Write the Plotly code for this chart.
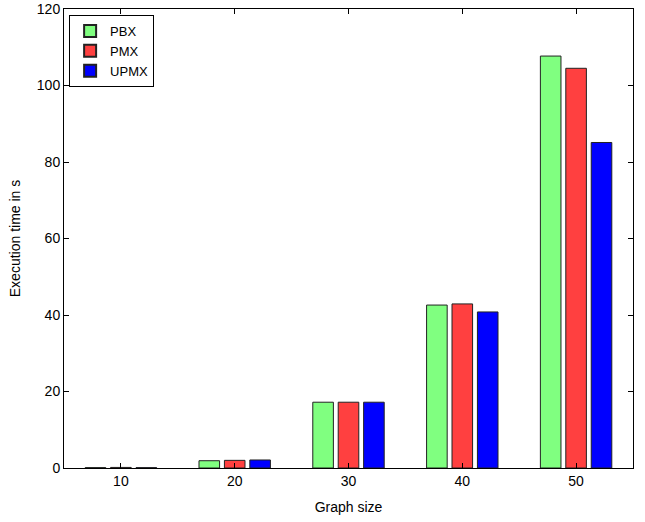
import plotly.graph_objects as go

categories = [10, 20, 30, 40, 50]
pbx = [0.1, 1.9, 17.2, 42.6, 107.7]
pmx = [0.15, 2.0, 17.2, 42.9, 104.5]
upmx = [0.1, 2.1, 17.2, 40.8, 85.1]
y_ticks = [0, 20, 40, 60, 80, 100, 120]

fig = go.Figure()
for name, vals, col in [("PBX", pbx, "#80ff80"), ("PMX", pmx, "#ff4040"), ("UPMX", upmx, "#0000ff")]:
    fig.add_trace(go.Bar(x=categories, y=vals, name=name,
                         marker=dict(color=col, line=dict(color="#222222", width=1))))

font = dict(family="Liberation Sans, Arial, sans-serif", size=14, color="black")
fig.update_layout(
    width=645, height=522,
    margin=dict(l=64, r=12, t=9, b=54, autoexpand=False),
    paper_bgcolor="white", plot_bgcolor="white",
    barmode="group", bargap=0.33, bargroupgap=0.19,
    font=font,
    showlegend=True,
    legend=dict(x=0.009, y=0.987, xanchor="left", yanchor="top",
                bordercolor="black", borderwidth=1, bgcolor="white",
                font=dict(family="Liberation Sans, Arial, sans-serif", size=13),
                tracegroupgap=0, itemsizing="constant", itemwidth=30),
    xaxis=dict(range=[5, 55], tickvals=categories, ticktext=[str(c) for c in categories],
               ticks="inside", ticklen=5, tickcolor="black", showline=True, linecolor="black",
               linewidth=1, mirror="ticks", showgrid=False, zeroline=False, automargin=False,
               title=dict(text="Graph size", font=font, standoff=14)),
    yaxis=dict(range=[0, 120], tickvals=y_ticks, ticks="inside", ticklen=5, tickcolor="black",
               showline=True, linecolor="black", linewidth=1, mirror="ticks", automargin=False,
               showgrid=False, zeroline=False,
               title=dict(text="Execution time in s", font=font, standoff=12)),
)
fig.write_html("out.html", config={"displayModeBar": False},
               post_script="document.body.style.margin='0';document.body.style.overflow='hidden';")
